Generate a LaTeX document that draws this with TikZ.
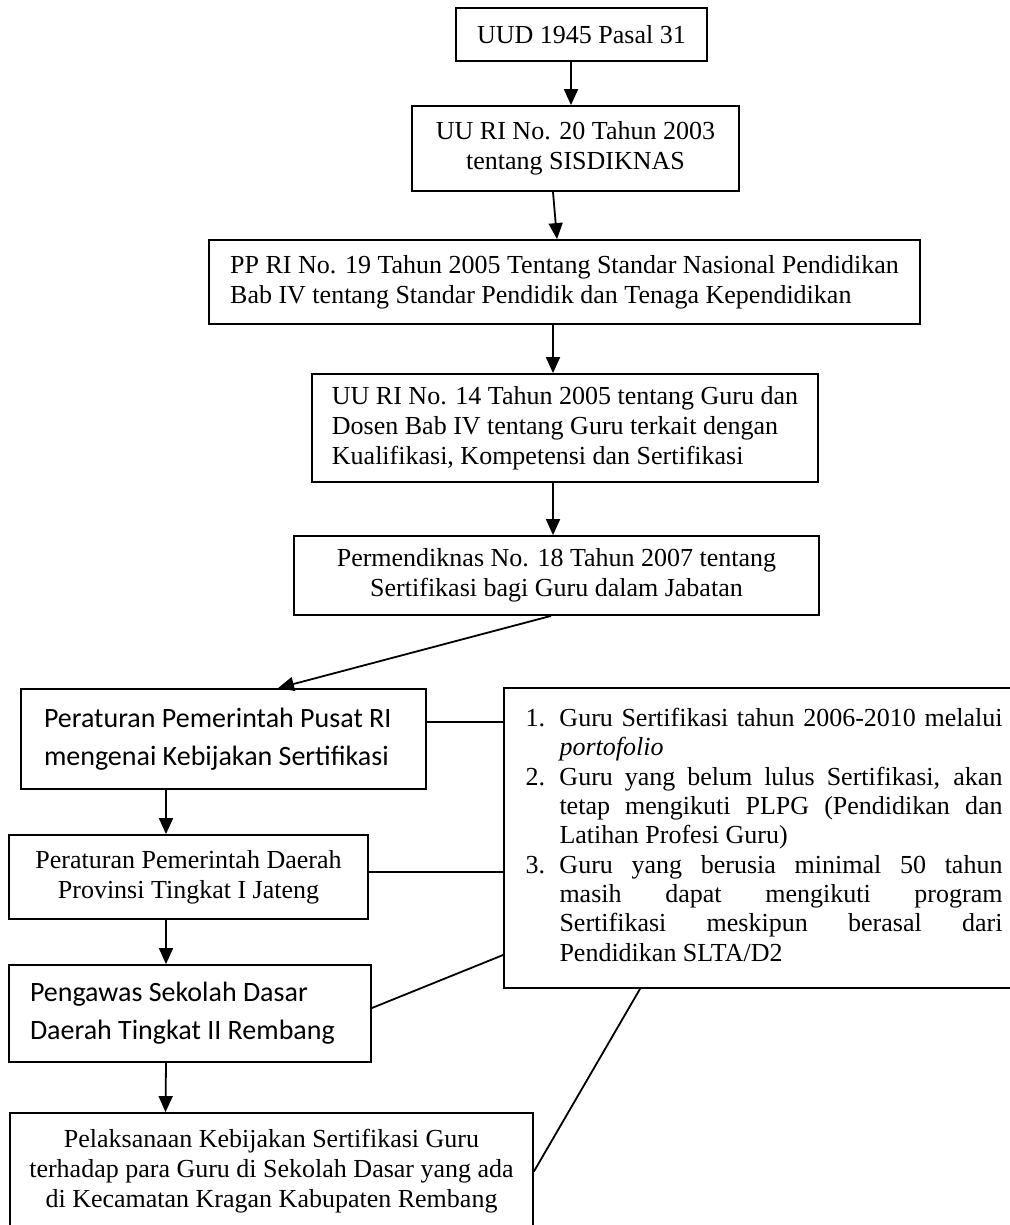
\documentclass[tikz,border=0pt]{standalone}
\usepackage{fontspec}
\setmainfont{Liberation Serif}
\newfontfamily\calibrifont{Carlito}
\usetikzlibrary{arrows.meta}
\begin{document}
\begin{tikzpicture}[x=0.5pt,y=-0.5pt,
  box/.style={draw, line width=0.9pt, inner sep=2pt, font=\fontsize{13}{15}\selectfont},
  sbox/.style={box, font=\calibrifont\fontsize{14}{19}\selectfont},
  lbox/.style={box, inner sep=0pt, font=\fontsize{13}{14.65}\selectfont},
  arr/.style={line width=0.9pt, -{Triangle[length=8pt,width=7pt]}},
  link/.style={line width=0.9pt}]
\useasboundingbox (0,0) rectangle (1010,1225);

\node[box, minimum width=125.5pt, minimum height=26.5pt] (n1) at (581.5,34.5) {UUD 1945 Pasal 31};
\node[box, align=center, minimum width=163.5pt, minimum height=42.5pt] (n2) at (575.5,148.5) {UU RI No. 20 Tahun 2003\\tentang SISDIKNAS};
\node[box, align=left, minimum width=355.5pt, minimum height=42pt] (n3) at (564.5,282) {PP RI No. 19 Tahun 2005 Tentang Standar Nasional Pendidikan\\Bab IV tentang Standar Pendidik dan Tenaga Kependidikan};
\node[box, align=left, minimum width=253pt, minimum height=54pt] (n4) at (565,428) {UU RI No. 14 Tahun 2005 tentang Guru dan\\Dosen Bab IV tentang Guru terkait dengan\\Kualifikasi, Kompetensi dan Sertifikasi};
\node[box, align=center, minimum width=262.5pt, minimum height=39.5pt] (n5) at (556.5,575.5) {Permendiknas No. 18 Tahun 2007 tentang\\Sertifikasi bagi Guru dalam Jabatan};
\node[sbox, align=flush left, inner xsep=11.5pt, text width=179.5pt, minimum width=202.5pt, minimum height=50pt] (n6) at (223.5,739) {Peraturan Pemerintah Pusat RI\\mengenai Kebijakan Sertifikasi};
\node[box, align=center, minimum width=179.5pt, minimum height=42pt] (n7) at (188.5,877) {Peraturan Pemerintah Daerah\\Provinsi Tingkat I Jateng};
\node[sbox, align=flush left, inner xsep=10.5pt, text width=160pt, minimum width=181pt, minimum height=48.5pt] (n8) at (190,1013.5) {Pengawas Sekolah Dasar\\Daerah Tingkat II Rembang};
\node[box, align=center, minimum width=261.5pt, minimum height=58.5pt] (n9) at (271.5,1171.5) {Pelaksanaan Kebijakan Sertifikasi Guru\\terhadap para Guru di Sekolah Dasar yang ada\\di Kecamatan Kragan Kabupaten Rembang};

\node[lbox, minimum width=260pt, minimum height=150pt] (list) at (764,838) {%
\begin{tabular}{@{}p{17pt}@{}l@{}}
1. & \makebox[221.5pt][s]{Guru Sertifikasi tahun 2006-2010 melalui}\\
   & \textit{portofolio}\\
2. & \makebox[221.5pt][s]{Guru yang belum lulus Sertifikasi, akan}\\
   & \makebox[221.5pt][s]{tetap mengikuti PLPG (Pendidikan dan}\\
   & Latihan Profesi Guru)\\
3. & \makebox[221.5pt][s]{Guru yang berusia minimal 50 tahun}\\
   & \makebox[221.5pt][s]{masih dapat mengikuti program}\\
   & \makebox[221.5pt][s]{Sertifikasi meskipun berasal dari}\\
   & Pendidikan SLTA/D2
\end{tabular}};

\draw[arr] ([xshift=-5.25pt]n1.south) -- ([xshift=-2.25pt]n2.north);
\draw[arr] ([xshift=-11.25pt]n2.south) -- ([xshift=-3.75pt]n3.north);
\draw[arr] ([xshift=-5.75pt]n3.south) -- ([xshift=-6pt]n4.north);
\draw[arr] ([xshift=-6pt]n4.south) -- ([xshift=-1.75pt]n5.north);
\draw[arr] ([xshift=-2.75pt]n5.south) -- ([xshift=27.25pt]n6.north);
\draw[arr] ([xshift=-28.75pt]n6.south) -- ([xshift=-11.25pt]n7.north);
\draw[arr] ([xshift=-11.25pt]n7.south) -- ([xshift=-12pt]n8.north);
\draw[arr] ([xshift=-12pt]n8.south) -- ([xshift=-53pt]n9.north);

\coordinate (p6) at ([yshift=8.5pt]n6.east);
\draw[link] (p6) -- (p6 -| list.west);
\coordinate (p7) at ([yshift=2.5pt]n7.east);
\draw[link] (p7) -- (p7 -| list.west);
\draw[link] ([yshift=2.75pt]n8.east) -- ([yshift=-58.5pt]list.west);
\draw[link] (n9.east) -- ([xshift=-62pt]list.south);
\end{tikzpicture}
\end{document}
